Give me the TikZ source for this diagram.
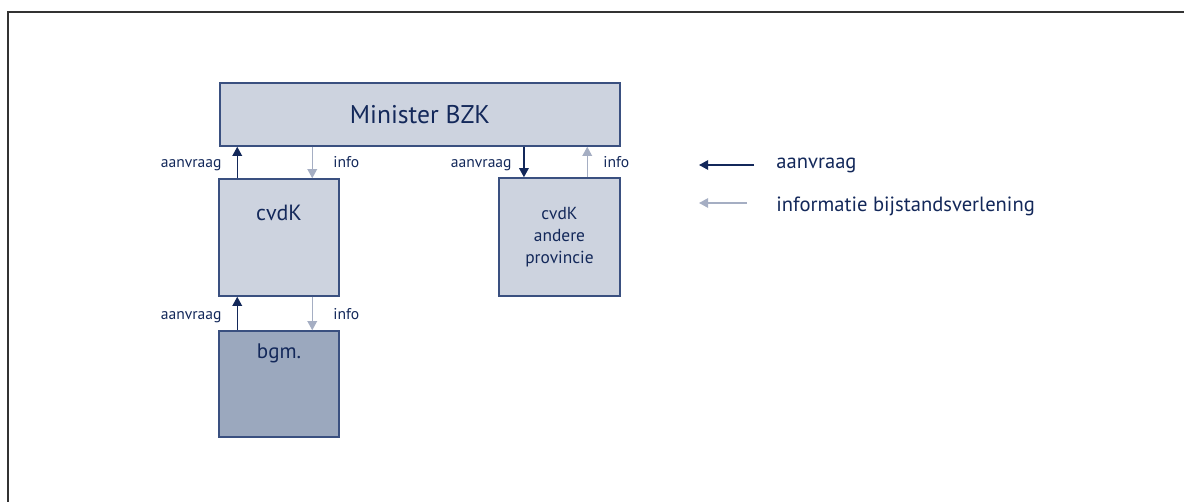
\documentclass[tikz,border=0pt]{standalone}
\usepackage{fontspec}
\setmainfont{PT Sans}
\usetikzlibrary{arrows.meta}
\definecolor{navy}{HTML}{13285A}
\definecolor{boxline}{HTML}{3A5080}
\definecolor{boxfill}{HTML}{CDD3DF}
\definecolor{bgmfill}{HTML}{9BA8BE}
\definecolor{infoc}{HTML}{A5AEC3}
\definecolor{framec}{HTML}{333333}
\begin{document}
\begin{tikzpicture}[x=0.5pt,y=-0.5pt,
  box/.style={draw=boxline, line width=0.75pt, fill=boxfill, inner sep=0pt},
  txt/.style={text=navy, inner sep=0pt},
  req/.style={draw=navy, line width=0.75pt, -{Triangle[width=4.8pt,length=4.6pt]}},
  inf/.style={draw=infoc, line width=0.75pt, -{Triangle[width=4.8pt,length=4.6pt]}},
  lbl/.style={text=navy, inner sep=0pt, font=\fontsize{7.8}{9}\selectfont},
  leg/.style={text=navy, inner sep=0pt, font=\fontsize{10.3}{12}\selectfont},
]
\useasboundingbox (0,0) rectangle (1184,502);
\draw[line width=1pt, draw=framec] (8,502) -- (8,12) -- (1184,12);

% boxes
\node[box, minimum width=200pt, minimum height=31.5pt, text=navy,
      font=\fontsize{12.8}{14}\selectfont] (min) at (420,114.5) {Minister BZK};
\node[box, minimum width=60pt, minimum height=58.5pt] (cvdk) at (279,237.5) {};
\node[txt, font=\fontsize{11}{12}\selectfont] (cvdktxt) at (279,213) {cvdK};
\node[box, minimum width=60.5pt, minimum height=59pt, text=navy, align=center,
      font=\fontsize{8.7}{10.85}\selectfont] (andere) at (559.5,237) {cvdK\\andere\\provincie};
\node[box, fill=bgmfill, minimum width=60pt, minimum height=53pt] (bgm) at (279,384) {};
\node[txt, font=\fontsize{10.5}{12}\selectfont] (bgmtxt) at (279,353) {bgm.};

% connectors top left
\coordinate (a1) at ([xshift=9.5pt]cvdk.north west);
\coordinate (i1) at ([xshift=47pt]cvdk.north west);
\draw[req] (a1) -- (a1 |- min.south);
\draw[inf] (i1 |- min.south) -- (i1);
% connectors right
\coordinate (a2) at ([xshift=12.85pt]andere.north west);
\coordinate (i2) at ([xshift=44.5pt]andere.north west);
\draw[req] (a2 |- min.south) -- (a2);
\draw[inf] (i2) -- (i2 |- min.south);
% connectors bottom
\coordinate (a3) at ([xshift=9.5pt]bgm.north west);
\coordinate (i3) at ([xshift=47pt]bgm.north west);
\draw[req] (a3) -- (a3 |- cvdk.south);
\draw[inf] (i3 |- cvdk.south) -- (i3);

% labels
\node[lbl, anchor=base east] (l1) at (222,167.5) {aanvraag};
\node[lbl, anchor=base west] (l2) at (333,167.5) {info};
\node[lbl, anchor=base east] (l3) at (512,167.5) {aanvraag};
\node[lbl, anchor=base west] (l4) at (603,167.5) {info};
\node[lbl, anchor=base east] (l5) at (222,319.5) {aanvraag};
\node[lbl, anchor=base west] (l6) at (333,319.5) {info};

% legend
\coordinate (lg1s) at (754,165);
\coordinate (lg1e) at (699,165);
\coordinate (lg2s) at (747,203);
\coordinate (lg2e) at (699,203);
\draw[req] (lg1s) -- (lg1e);
\draw[inf] (lg2s) -- (lg2e);
\node[leg, anchor=base west] (lt1) at (776,169) {aanvraag};
\node[leg, anchor=base west] (lt2) at (776,211.7) {informatie bijstandsverlening};
\end{tikzpicture}
\end{document}
